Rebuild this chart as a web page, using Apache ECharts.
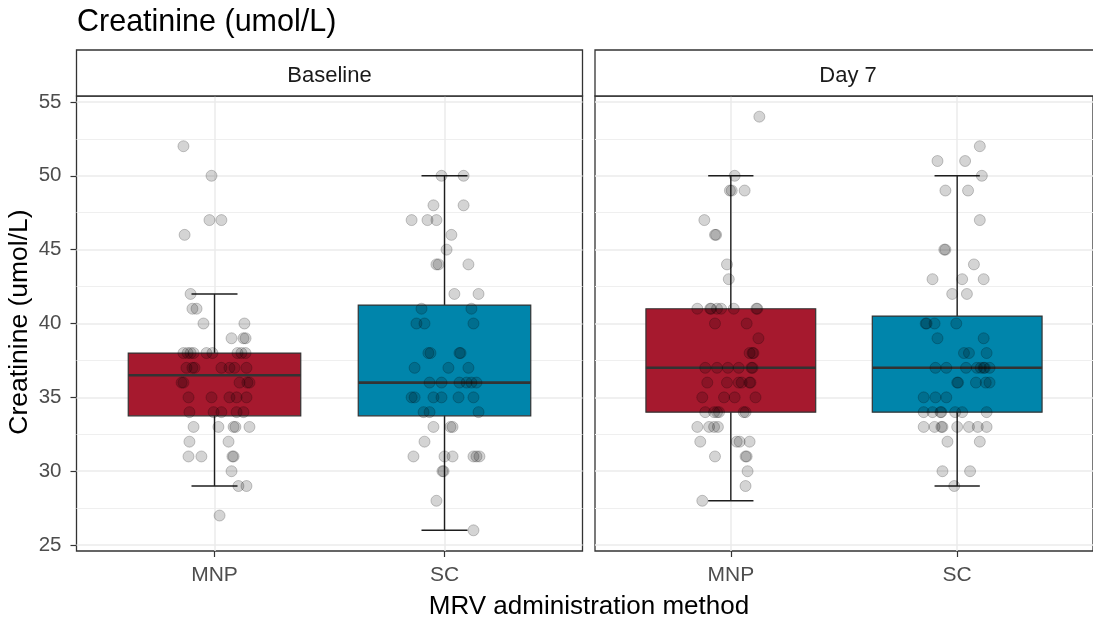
<!DOCTYPE html>
<html>
<head>
<meta charset="utf-8">
<title>Creatinine (umol/L)</title>
<script src="https://cdn.jsdelivr.net/npm/echarts@6/dist/echarts.min.js"></script>
<style>
  html, body { margin: 0; padding: 0; background: #ffffff; }
  #chart { width: 1093px; height: 626px; }
</style>
</head>
<body>
<div id="chart"></div>
<script>
// ---- data -------------------------------------------------------------
const panels = ['Baseline', 'Day 7'];
const methods = ['MNP', 'SC'];
const yTicks = [25, 30, 35, 40, 45, 50, 55];
const yMinorTicks = [27.5, 32.5, 37.5, 42.5, 47.5, 52.5];

// boxplot statistics per method: [lower whisker, Q1, median, Q3, upper whisker]
const baselineBoxes = [[29, 33.75, 36.5, 38, 42], [26, 33.75, 36, 41.25, 50]];
const day7Boxes = [[28, 34, 37, 41, 50], [29, 34, 37, 40.5, 50]];

// individual creatinine values and their horizontal jitter (in category units)
const baselineMnp = [52, 50, 47, 47, 46, 42, 41, 41, 40, 40, 39, 39, 39,
  38, 38, 38, 38, 38, 38, 38, 38, 38, 37, 37, 37, 37, 37, 37, 37,
  36, 36, 36, 36, 36, 35, 35, 35, 35, 35, 34, 34, 34, 34, 34,
  33, 33, 33, 33, 33, 32, 32, 31, 31, 31, 31, 30, 29, 29, 27];
const baselineMnpJitter = [-0.135, -0.013, -0.022, 0.030, -0.130, -0.104, -0.096, -0.078, -0.048, 0.130, 0.074, 0.126, 0.135,
  -0.135, -0.117, -0.104, -0.091, -0.035, -0.009, 0.100, 0.117, 0.135,
  -0.122, -0.096, -0.087, 0.030, 0.065, 0.087, 0.139,
  -0.143, -0.135, 0.109, 0.143, 0.152,
  -0.113, -0.013, 0.065, 0.096, 0.139,
  -0.109, -0.004, 0.030, 0.096, 0.126,
  -0.091, 0.017, 0.083, 0.091, 0.152,
  -0.109, 0.061,
  -0.113, -0.057, 0.078, 0.083,
  0.074,
  0.104, 0.139,
  0.022];

const baselineSc = [50, 50, 48, 48, 47, 47, 47, 46, 45, 44, 44, 44, 42, 42, 41, 41, 40, 40, 40,
  38, 38, 38, 38, 37, 37, 37, 36, 36, 36, 36, 36, 36, 35, 35, 35, 35, 35, 35,
  34, 34, 34, 33, 33, 33, 32, 31, 31, 31, 31, 31, 31, 30, 30, 28, 26];
const baselineScJitter = [-0.013, 0.083, -0.048, 0.083, -0.143, -0.074, -0.035, 0.030, 0.009,
  -0.035, -0.026, 0.104, 0.043, 0.148, -0.100, 0.117, -0.122, -0.087, 0.126,
  -0.070, -0.061, 0.065, 0.070,
  -0.130, 0.017, 0.104,
  -0.065, -0.013, 0.065, 0.096, 0.117, 0.139,
  -0.143, -0.130, -0.048, -0.013, 0.061, 0.126,
  -0.091, -0.065, 0.148,
  -0.048, 0.026, 0.035,
  -0.087,
  -0.135, 0, 0.035, 0.126, 0.139, 0.152,
  -0.009, -0.004,
  -0.035,
  0.126];

const day7Mnp = [54, 50, 49, 49, 49, 47, 46, 46, 44, 43, 41, 41, 41, 41, 41, 41, 41, 41, 40, 40, 39,
  38, 38, 38, 37, 37, 37, 37, 37, 37, 36, 36, 36, 36, 36, 36, 35, 35, 35, 35,
  34, 34, 34, 34, 34, 34, 33, 33, 33, 33, 32, 32, 32, 32, 31, 31, 31, 30, 29, 28];
const day7MnpJitter = [0.126, 0.017, -0.004, 0.004, 0.061, -0.117, -0.070, -0.065, -0.017, -0.009,
  -0.148, -0.091, -0.087, -0.061, -0.043, 0.013, 0.113, 0.117,
  -0.070, 0.070, 0.122,
  0.083, 0.096, 0.100,
  -0.113, -0.061, -0.013, 0.035, 0.091, 0.096,
  -0.104, -0.017, 0.035, 0.048, 0.083, 0.087,
  -0.126, -0.030, 0.017, 0.109,
  -0.113, -0.074, -0.061, -0.052, 0.057, 0.065,
  -0.148, -0.096, -0.074, -0.057,
  -0.135, 0.026, 0.039, 0.083,
  -0.070, 0.065, 0.070,
  0.074, 0.065, -0.126];

const day7Sc = [52, 51, 51, 50, 49, 49, 47, 45, 45, 44, 43, 43, 43, 42, 42, 40, 40, 40, 40, 39, 39,
  38, 38, 38, 37, 37, 37, 37, 37, 37, 37, 37, 36, 36, 36, 36, 36, 35, 35, 35,
  34, 34, 34, 34, 34, 34, 34, 33, 33, 33, 33, 33, 33, 33, 33, 32, 32, 30, 30, 29];
const day7ScJitter = [0.100, -0.087, 0.035, 0.109, -0.052, 0.048, 0.100, -0.057, -0.052, 0.074,
  -0.109, 0.022, 0.117, -0.022, 0.043, -0.139, -0.135, -0.100, -0.004, -0.087, 0.117,
  0.030, 0.052, 0.130,
  -0.096, -0.048, 0.039, 0.087, 0.104, 0.117, 0.122, 0.143,
  0, 0.004, 0.083, 0.126, 0.143,
  -0.148, -0.096, -0.048,
  -0.148, -0.109, -0.074, -0.070, -0.009, 0.022, 0.130,
  -0.148, -0.100, -0.070, -0.065, 0, 0.052, 0.091, 0.130,
  -0.043, 0.100,
  -0.065, 0.057,
  -0.013];

// ---- styling ----------------------------------------------------------
const FONT = "'Liberation Sans', Arial, Helvetica, sans-serif";
const methodColors = ['#A6192E', '#0085AB'];
const DARK = '#333333';
const GRID_MAJOR = '#EBEBEB';
const GRID_MINOR = '#EFEFEF';

const panelRects = [
  { left: 76.5, top: 96, width: 506, height: 455 },
  { left: 595, top: 96, width: 506, height: 455 }
];
const STRIP_TOP = 50;
const Y_MIN = 24.6, Y_MAX = 55.4;

// ---- builders ---------------------------------------------------------
function pointData(values, jitter, catIndex) {
  return values.map((v, i) => [catIndex + 1 + jitter[i], v]);
}

function boxData(boxes) {
  return boxes.map((b, i) => [i + 1, b[0], b[1], b[2], b[3], b[4], i]);
}

function renderBox(params, api) {
  const x = api.value(0);
  const lo = api.coord([x, api.value(1)]);
  const q1 = api.coord([x, api.value(2)]);
  const md = api.coord([x, api.value(3)]);
  const q3 = api.coord([x, api.value(4)]);
  const hi = api.coord([x, api.value(5)]);
  const boxW = api.size([0.75, 0])[0];
  const capW = api.size([0.2, 0])[0];
  const fill = methodColors[api.value(6)];
  const whisker = { stroke: '#1e1e1e', lineWidth: 1.4 };
  return {
    type: 'group',
    children: [
      { type: 'line', shape: { x1: lo[0], y1: lo[1], x2: hi[0], y2: hi[1] }, style: whisker },
      { type: 'line', shape: { x1: lo[0] - capW / 2, y1: lo[1], x2: lo[0] + capW / 2, y2: lo[1] }, style: whisker },
      { type: 'line', shape: { x1: hi[0] - capW / 2, y1: hi[1], x2: hi[0] + capW / 2, y2: hi[1] }, style: whisker },
      { type: 'rect', shape: { x: q3[0] - boxW / 2, y: q3[1], width: boxW, height: q1[1] - q3[1] },
        style: { fill: fill, stroke: DARK, lineWidth: 1.2 } },
      { type: 'line', shape: { x1: md[0] - boxW / 2, y1: md[1], x2: md[0] + boxW / 2, y2: md[1] },
        style: { stroke: DARK, lineWidth: 2.6 } }
    ]
  };
}

// panel grid lines, drawn underneath the boxes
function gridLineSeries(idx) {
  const major = { lineStyle: { color: GRID_MAJOR, width: 1.5, type: 'solid' } };
  const minor = { lineStyle: { color: GRID_MINOR, width: 1.1, type: 'solid' } };
  return {
    type: 'scatter', xAxisIndex: idx, yAxisIndex: idx, data: [], z: 1, silent: true,
    markLine: {
      silent: true, symbol: ['none', 'none'], animation: false, z: 1,
      label: { show: false },
      emphasis: { disabled: true },
      data: [
        ...yMinorTicks.map(v => Object.assign({ yAxis: v }, minor)),
        ...yTicks.map(v => Object.assign({ yAxis: v }, major)),
        ...methods.map((m, i) => Object.assign({ xAxis: i + 1 }, major))
      ]
    }
  };
}

function pointSeries(idx, data) {
  return {
    type: 'scatter', xAxisIndex: idx, yAxisIndex: idx, data: data, z: 4,
    symbol: 'circle', symbolSize: 11, silent: true, animation: false,
    itemStyle: { color: 'rgba(0,0,0,0.21)', borderColor: 'rgba(0,0,0,0.26)', borderWidth: 1 }
  };
}

function boxSeries(idx, boxes) {
  return {
    type: 'custom', xAxisIndex: idx, yAxisIndex: idx, z: 3, silent: true, animation: false,
    renderItem: renderBox,
    encode: { x: 0, y: [1, 2, 3, 4, 5] },
    data: boxData(boxes)
  };
}

const grids = panelRects.map(r => ({
  left: r.left, top: r.top, width: r.width, height: r.height,
  show: true, backgroundColor: '#ffffff', borderColor: DARK, borderWidth: 1.3, z: 0
}));

const xAxes = panelRects.map((r, idx) => ({
  type: 'value', gridIndex: idx, min: 0.4, max: 2.6,
  axisLine: { show: false },
  splitLine: { show: false },
  axisTick: { show: true, length: 6, lineStyle: { color: DARK, width: 1.2 }, customValues: [1, 2] },
  axisLabel: {
    show: true, margin: 14, color: '#4D4D4D', fontSize: 21, fontFamily: FONT,
    customValues: [1, 2],
    formatter: v => methods[Math.round(v) - 1] || ''
  }
}));

const yAxes = panelRects.map((r, idx) => ({
  type: 'value', gridIndex: idx, min: Y_MIN, max: Y_MAX,
  axisLine: { show: false },
  splitLine: { show: false },
  axisTick: { show: idx === 0, length: 6, lineStyle: { color: DARK, width: 1.2 }, customValues: yTicks },
  axisLabel: {
    show: idx === 0, margin: 15, color: '#4D4D4D', fontSize: 20.5, fontFamily: FONT,
    customValues: yTicks
  }
}));

const stripGraphics = [];
panelRects.forEach((r, idx) => {
  stripGraphics.push({
    type: 'rect', silent: true, z: 10,
    shape: { x: r.left, y: STRIP_TOP, width: r.width, height: r.top - STRIP_TOP },
    style: { fill: '#ffffff', stroke: DARK, lineWidth: 1.3 }
  });
  stripGraphics.push({
    type: 'text', silent: true, z: 11,
    x: r.left + r.width / 2, y: 75.5,
    style: { text: panels[idx], fill: '#1A1A1A', font: '22px ' + FONT, align: 'center', verticalAlign: 'middle' }
  });
});

const option = {
  animation: false,
  backgroundColor: '#ffffff',
  grid: grids,
  xAxis: xAxes,
  yAxis: yAxes,
  graphic: [
    ...stripGraphics,
    { type: 'text', silent: true, x: 77, y: 23,
      style: { text: 'Creatinine (umol/L)', fill: '#000000', font: '30.5px ' + FONT, align: 'left', verticalAlign: 'middle' } },
    { type: 'text', silent: true, x: 589, y: 606.5,
      style: { text: 'MRV administration method', fill: '#000000', font: '26px ' + FONT, align: 'center', verticalAlign: 'middle' } },
    { type: 'text', silent: true, x: 20, y: 322, rotation: Math.PI / 2,
      style: { text: 'Creatinine (umol/L)', fill: '#000000', font: '26.5px ' + FONT, align: 'center', verticalAlign: 'middle' } }
  ],
  series: [
    gridLineSeries(0),
    gridLineSeries(1),
    boxSeries(0, baselineBoxes),
    boxSeries(1, day7Boxes),
    pointSeries(0, pointData(baselineMnp, baselineMnpJitter, 0).concat(pointData(baselineSc, baselineScJitter, 1))),
    pointSeries(1, pointData(day7Mnp, day7MnpJitter, 0).concat(pointData(day7Sc, day7ScJitter, 1)))
  ]
};

const chart = echarts.init(document.getElementById('chart'), null, { renderer: 'canvas' });
chart.setOption(option);
</script>
</body>
</html>
